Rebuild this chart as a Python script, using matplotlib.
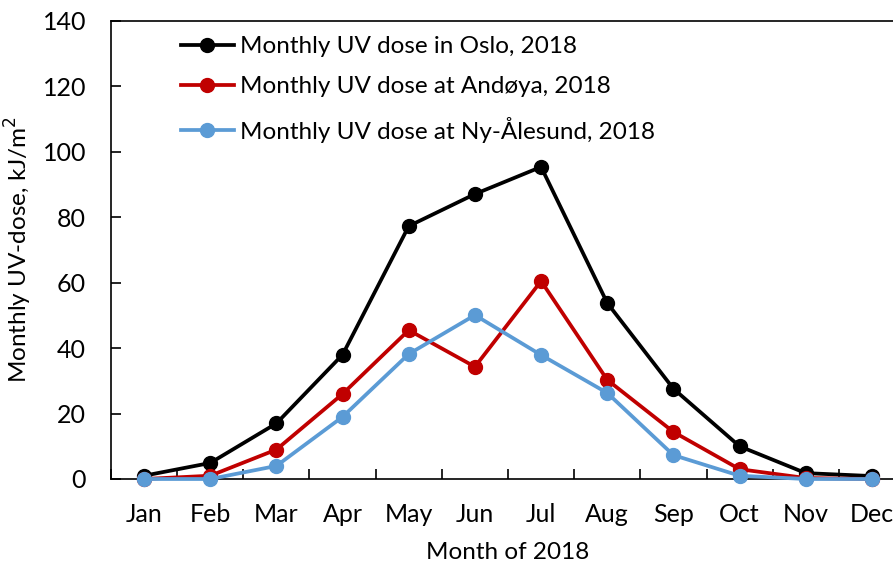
import matplotlib.pyplot as plt
import numpy as np

plt.rcParams['font.family'] = ['Lato', 'DejaVu Sans']

months = ['Jan', 'Feb', 'Mar', 'Apr', 'May', 'Jun', 'Jul', 'Aug', 'Sep', 'Oct', 'Nov', 'Dec']
oslo = [1.0, 4.9, 17.0, 38.0, 77.3, 87.1, 95.4, 53.8, 27.6, 10.0, 1.8, 0.9]
andoya = [0.0, 1.0, 9.0, 26.0, 45.5, 34.3, 60.5, 30.3, 14.4, 3.0, 0.3, 0.0]
nyalesund = [0.0, 0.0, 4.0, 19.0, 38.2, 50.1, 37.9, 26.3, 7.3, 1.0, 0.0, 0.0]

labels = ['Monthly UV dose in Oslo, 2018',
          'Monthly UV dose at Andøya, 2018',
          'Monthly UV dose at Ny-Ålesund, 2018']
colors = ['#000000', '#C00000', '#5B9BD5']

fig = plt.figure(figsize=(8.93, 5.67), dpi=100)
ax = fig.add_axes([111 / 893, 1 - 479 / 567, (905 - 111) / 893, (479 - 21) / 567])

x = np.arange(len(months))
for vals, lab, c in zip([oslo, andoya, nyalesund], labels, colors):
    ax.plot(x, vals, color=c, lw=2.7, marker='o', ms=10, label=lab, clip_on=False, zorder=3)

ax.set_xlim(-0.5, 11.5)
ax.set_ylim(0, 140)
ax.set_yticks(np.arange(0, 141, 20))
ax.set_xticks(x)
ax.set_xticklabels(months)
ax.set_xticks(np.arange(-0.5, 12, 1), minor=True)
ax.tick_params(axis='x', which='major', length=0, labelsize=18, pad=17)
ax.tick_params(axis='x', which='minor', direction='in', length=7, width=1.2)
ax.tick_params(axis='y', direction='in', length=7, width=1.2, labelsize=18, pad=18)
for s in ax.spines.values():
    s.set_linewidth(1.2)

ax.set_xlabel('Month of 2018', fontsize=17.5, labelpad=12)
ax.set_ylabel('Monthly UV-dose, kJ/m$^2$', fontsize=17.5, labelpad=6)

ax.legend(loc='upper left', bbox_to_anchor=(0.06, 1.015), frameon=False, fontsize=17.5,
          handlelength=2.2, handletextpad=0.25, labelspacing=0.8)

fig.savefig('out.png', dpi=100)
